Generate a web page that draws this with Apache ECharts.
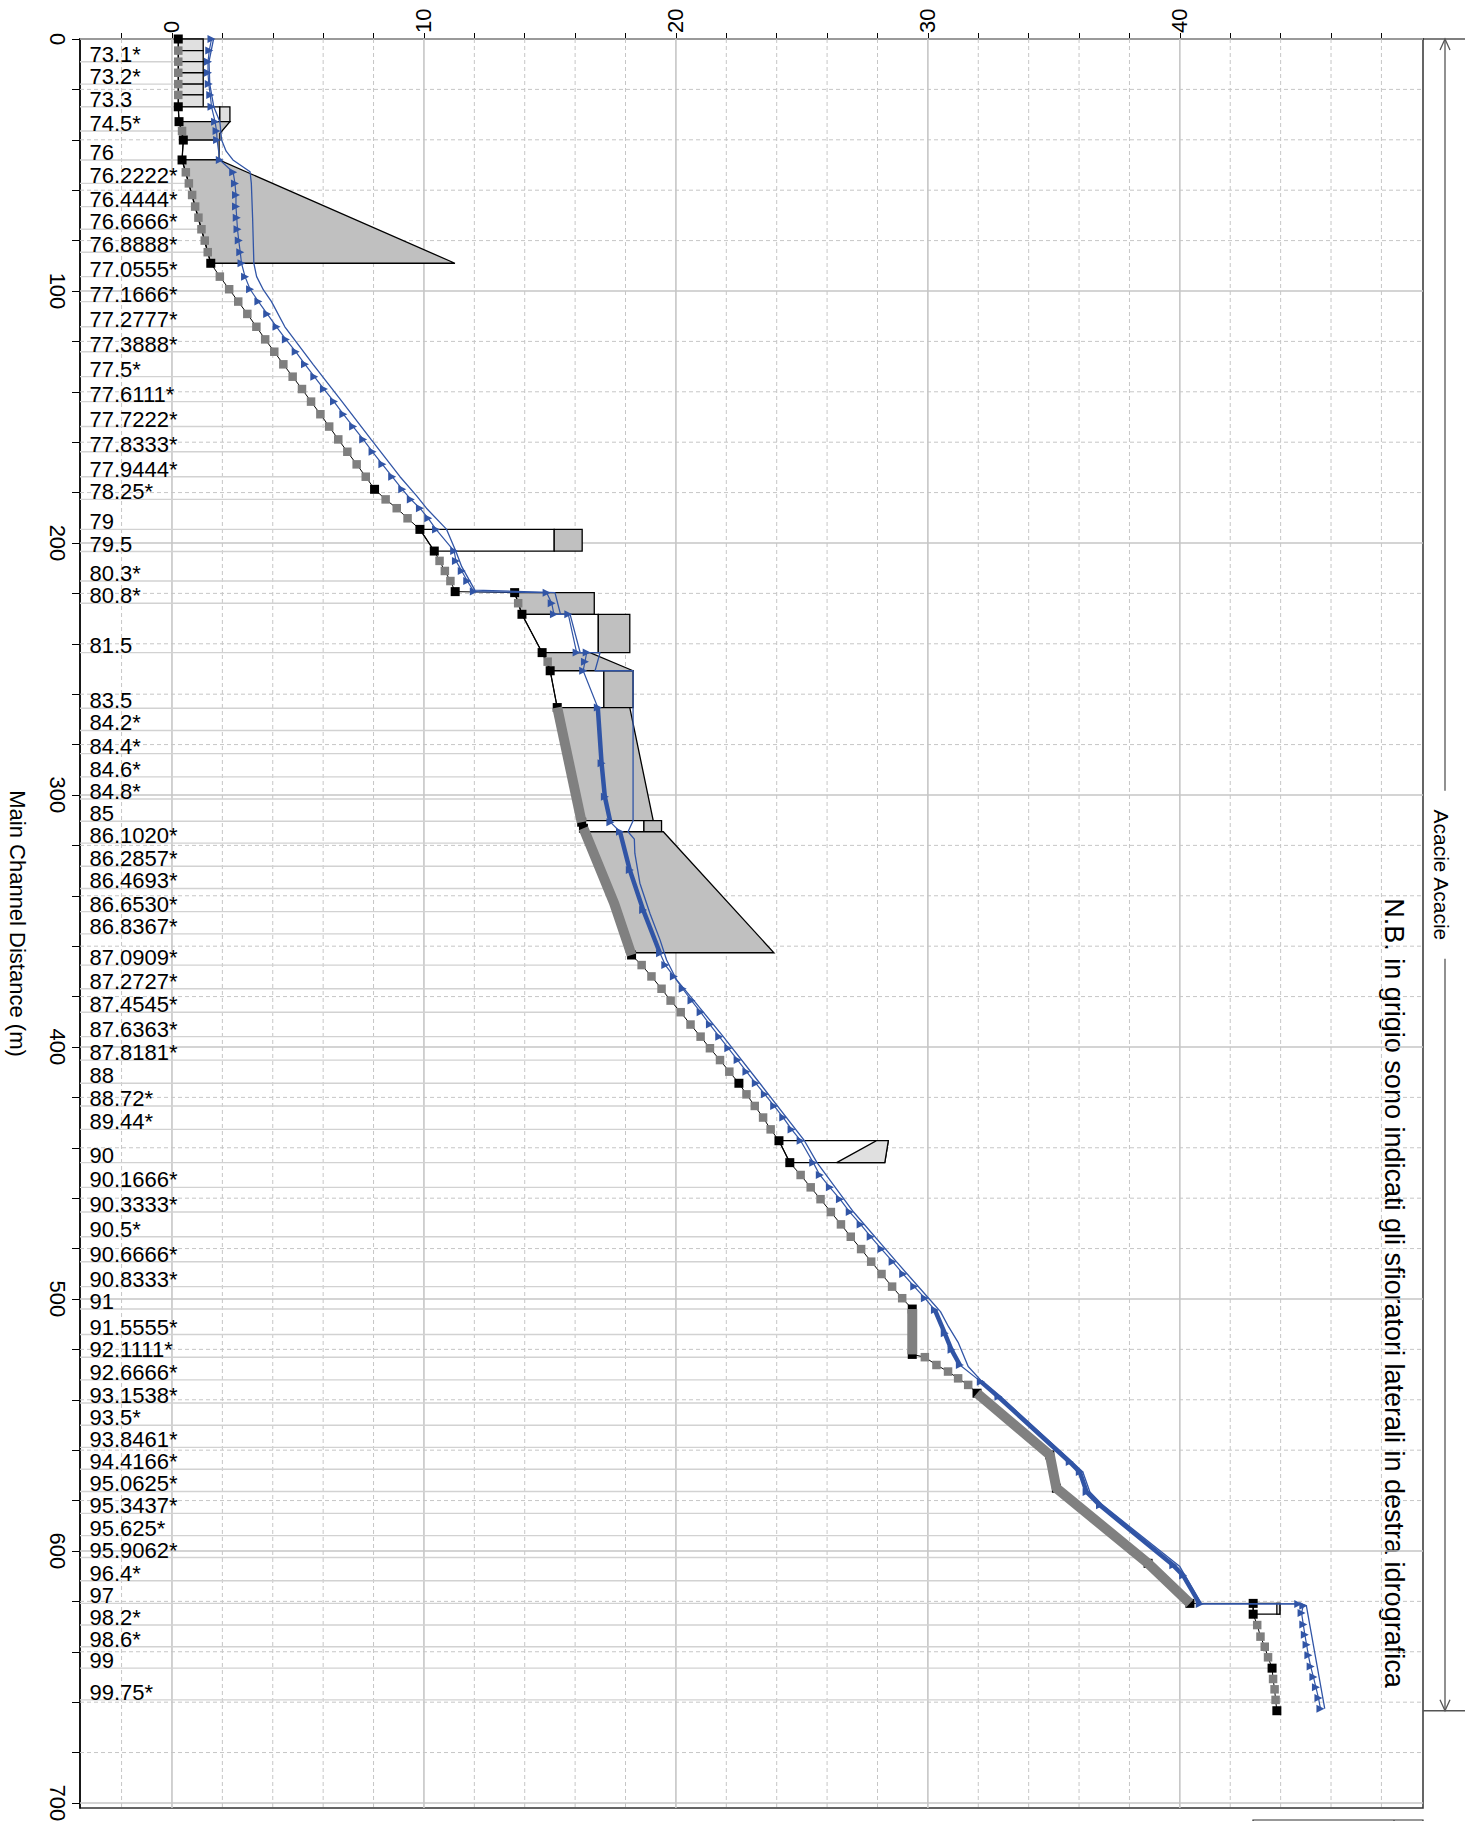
<!DOCTYPE html>
<html><head><meta charset="utf-8">
<script src="https://cdn.jsdelivr.net/npm/echarts@6.0.0/dist/echarts.min.js"></script>
<style>html,body{margin:0;padding:0;background:#fff;overflow:hidden;width:1465px;height:1821px}#chart{position:absolute;left:0;top:0;width:1465px;height:1821px}</style>
</head><body><div id="chart"></div><script>
// ---------- axis ranges and ticks ----------
const E_MIN = -3.65, E_MAX = 49.65, D_MIN = 0, D_MAX = 702;
const elevLabelValues = [0, 10, 20, 30, 40];
const elevGridMajor = [0, 10, 20, 30, 40];
const elevGridMinor = [-2, 2, 4, 6, 8, 12, 14, 16, 18, 22, 24, 26, 28, 32, 34, 36, 38, 42, 44, 46, 48];
const distLabelValues = [0, 100, 200, 300, 400, 500, 600, 700];
const distGridMajor = [0, 100, 200, 300, 400, 500, 600, 700];
const distGridMinor = [20, 40, 60, 80, 120, 140, 160, 180, 220, 240, 260, 280, 320, 340, 360, 380, 420, 440, 460, 480, 520, 540, 560, 580, 620, 640, 660, 680];

// ---------- river stations ----------
const stationLabels = ['73.1*','73.2*','73.3','74.5*','76','76.2222*','76.4444*','76.6666*','76.8888*','77.0555*','77.1666*','77.2777*','77.3888*','77.5*','77.6111*','77.7222*','77.8333*','77.9444*','78.25*','79','79.5','80.3*','80.8*','81.5','83.5','84.2*','84.4*','84.6*','84.8*','85','86.1020*','86.2857*','86.4693*','86.6530*','86.8367*','87.0909*','87.2727*','87.4545*','87.6363*','87.8181*','88','88.72*','89.44*','90','90.1666*','90.3333*','90.5*','90.6666*','90.8333*','91','91.5555*','92.1111*','92.6666*','93.1538*','93.5*','93.8461*','94.4166*','95.0625*','95.3437*','95.625*','95.9062*','96.4*','97','98.2*','98.6*','99','99.75*'];
const stationDist = [9.0,17.9,26.9,36.5,48.0,57.3,66.5,75.5,84.6,94.3, 104.2,114.2,124.1,134.0,143.9,153.8,163.8,173.7,182.7,194.6, 203.4,215.1,223.9,243.5,265.6,274.4,283.6,292.8,301.6,310.4, 319.1,328.3,337.1,346.3,355.1,367.5,376.9,386.2,395.9,405.2, 414.4,423.4,432.7,445.9,455.7,465.5,475.3,485.2,495.1,504.0, 514.1,523.1,532.1,541.3,550.1,558.9,567.6,576.4,585.1,593.9, 602.6,611.8,620.8,629.4,638.0,646.5,659.1];

// ---------- ground (channel invert) ----------
const groundDist = [0,4.6,9.0,13.4,17.9,22.2,26.9,32.8,36.5,40.1, 48.0,52.9,57.3,61.9,66.5,70.9,75.5,80.0,84.6,89.0, 94.3,99.3,104.2,109.1,114.2,119.2,124.1,129.1,134.0,138.9, 143.9,148.9,153.8,158.9,163.8,168.8,173.7,178.7,182.7,186.2, 190.2,194.6,203.2,207.1,211.1,215.1,219.3,219.7,223.9,228.3, 243.5,247.1,250.7,265.3,310.8,313.2,343.0,363.5,367.5,372.0, 376.9,381.6,386.2,391.1,395.9,400.5,405.2,409.8,414.4,418.8, 423.4,428.0,432.7,437.2,445.9,450.8,455.7,460.4,465.5,470.4, 475.3,480.2,485.2,490.1,495.1,499.7,504.0,522.0,523.1,526.2, 528.8,531.5,534.1,537.4,561.9,575.1,604.9,620.8,620.8,625.1, 629.4,634.0,638.0,642.2,646.5,650.8,654.9,659.1,663.4];
const groundElev = [0.25,0.25,0.25,0.25,0.25,0.25,0.25,0.28,0.4,0.45, 0.4,0.55,0.67,0.8,0.92,1.05,1.17,1.3,1.42,1.54, 1.9,2.27,2.63,2.99,3.35,3.7,4.06,4.42,4.79,5.16, 5.52,5.89,6.24,6.6,6.96,7.33,7.69,8.04,8.48,8.92, 9.35,9.84,10.41,10.62,10.83,11.05,11.24,13.6,13.74,13.89, 14.69,14.91,15.01,15.29,16.26,16.33,17.55,18.24,18.64,19.03, 19.43,19.79,20.19,20.58,20.98,21.35,21.75,22.12,22.5,22.8, 23.13,23.46,23.76,24.09,24.52,24.95,25.35,25.74,26.15,26.55, 26.94,27.35,27.75,28.16,28.58,28.98,29.38,29.38,29.88,30.34, 30.8,31.2,31.6,31.95,34.84,35.1,38.74,40.4,42.91,42.91, 43.07,43.2,43.37,43.5,43.66,43.7,43.76,43.8,43.85];
// 1 = surveyed section (black), 0 = interpolated section (grey), 2 = no marker
const groundKind = [1,0,0,0,0,0,1,1,0,1, 1,0,0,0,0,0,0,0,0,1, 0,0,0,0,0,0,0,0,0,0, 0,0,0,0,0,0,0,1,0,0, 0,1,1,0,0,0,1,1,0,1, 1,0,1,1,1,1,2,1,0,0, 0,0,0,0,0,0,0,0,1,0, 0,0,0,1,1,0,0,0,0,0, 0,0,0,0,0,0,1,1,0,0, 0,0,0,1,1,1,1,1,1,1, 0,0,0,0,1,0,0,0,1];
// stretches with very dense interpolated sections: [dist, elev]
const groundBand1 = [[265.3,15.29],[310.8,16.26]];
const groundBand2 = [[313.2,16.33],[343.0,17.55],[363.5,18.24]];
const groundBand3 = [[504.0,29.38],[522.0,29.38]];
const groundBand4 = [[537.4,31.95],[561.9,34.84],[575.1,35.1],[604.9,38.74],[620.8,40.4]];

// ---------- water surface, profile with markers ----------
const wsTriDist = [0,4.6,9.0,13.4,17.9,22.2,26.9,32.8,36.5,40.1, 48.0,52.9,57.3,61.9,66.5,70.9,75.5,80.0,84.6,89.0, 94.3,99.3,104.2,109.1,114.2,119.2,124.1,129.1,134.0,138.9, 143.9,148.9,153.8,158.9,163.8,168.8,173.7,178.7,182.7,186.2, 190.2,194.6,203.2,207.1,211.1,215.1,219.3,219.7,223.9,228.3, 228.3,243.5,243.5,247.1,250.7,265.3,287.4,300.7,310.8,314.6, 329.8,345.6,362.8,367.5,372.0,376.9,381.6,386.2,391.1,395.9, 400.5,405.2,409.8,414.4,418.8,423.4,428.0,432.7,437.2,445.9, 450.8,455.7,460.4,465.5,470.4,475.3,480.2,485.2,490.1,495.1, 499.7,504.4,513.6,520.2,526.2,532.8,538.8,564.7,568.7,576.6, 581.9,605.7,609.7,621.0,621.0,621.7,624.6,629.2,633.2,637.2, 641.4,645.8,650.0,654.1,658.3,662.6];
const wsTriElev = [1.57,1.48,1.43,1.43,1.46,1.52,1.57,1.71,1.77,1.79, 1.9,2.43,2.5,2.54,2.54,2.57,2.6,2.65,2.71,2.76, 2.9,3.1,3.43,3.78,4.15,4.52,4.91,5.28,5.65,6.03, 6.43,6.8,7.19,7.59,7.96,8.35,8.74,9.14,9.48,9.84, 10.17,10.48,11.2,11.27,11.5,11.72,11.98,14.87,15.07,15.16, 15.73,16.06,16.46,16.39,16.32,16.9,17.05,17.18,17.4,17.78, 18.17,18.7,19.37,19.58,19.92,20.27,20.62,20.98,21.35,21.72, 22.08,22.45,22.8,23.17,23.53,23.9,24.26,24.59,24.95,25.45, 25.71,26.11,26.51,26.9,27.33,27.73,28.16,28.6,29.02,29.46, 29.88,30.28,30.67,30.94,31.27,32.1,32.8,35.63,36.03,36.3, 36.83,39.74,40.13,40.79,44.7,44.9,44.83,44.9,44.96,45.03, 45.1,45.19,45.3,45.4,45.5,45.58];
const wsBand1 = [[265.3,16.9],[287.4,17.05],[300.7,17.18],[310.8,17.4]];
const wsBand2 = [[314.6,17.78],[329.8,18.17],[345.6,18.7],[362.8,19.37]];
const wsBand3 = [[504.4,30.28],[513.6,30.67],[520.2,30.94],[526.2,31.27]];
const wsBand4 = [[532.8,32.1],[538.8,32.8],[564.7,35.63],[568.7,36.03],[576.6,36.3],[581.9,36.83],[605.7,39.74],[609.7,40.13],[621.0,40.79]];

// ---------- water surface, plain profile ----------
const wsPlainDist = [0,9.0,17.9,26.9,32.8,40.1,44.5,48.0,52.7,57.3, 70.9,89.0,94.3,99.6,104.2,114.2,129.1,143.9,158.9,173.7, 181.3,186.2,194.6,203.4,209.4,218.7,219.7,228.3,228.3,243.5, 243.5,250.7,250.7,310.2,314.6,317.5,323.1,335.0,347.0,357.5, 365.5,373.4,381.3,395.9,414.4,437.2,445.9,465.5,485.2,499.7, 505.0,511.0,517.2,526.8,532.8,538.8,564.9,568.7,576.6,581.9, 606.2,621.0,621.0,621.7,662.6];
const wsPlainElev = [1.65,1.47,1.5,1.66,1.9,1.97,2.15,2.42,3.1,3.15, 3.2,3.25,3.36,3.63,3.95,4.48,5.6,6.75,7.9,9.05, 9.71,10.1,10.9,11.27,11.5,12.02,15.2,15.42,15.8,16.2, 16.99,16.79,18.3,18.3,18.1,18.35,18.37,18.57,18.97,19.37, 19.63,20.03,20.69,21.88,23.33,25.1,25.6,27.05,28.75,30.03, 30.5,30.82,31.2,31.6,32.15,32.88,35.75,36.15,36.43,36.95, 40.0,40.85,44.8,45.02,45.75];

// ---------- structures (lateral weirs / decks): polygons of [dist, elev] ----------
const structKinds = ['light','light','light','light','light','light','white','light','gray','white','gray','white','gray','gray','white','gray','gray','white','gray','gray','white','gray','gray','white','light','white','light'];
const structPoints = [
 [[0,0.25],[0,1.24],[4.6,1.24],[4.6,0.25]],
 [[4.6,0.25],[4.6,1.24],[9.0,1.24],[9.0,0.25]],
 [[9.0,0.25],[9.0,1.24],[13.4,1.24],[13.4,0.25]],
 [[13.4,0.25],[13.4,1.24],[17.9,1.24],[17.9,0.25]],
 [[17.9,0.25],[17.9,1.24],[22.2,1.24],[22.2,0.25]],
 [[22.2,0.25],[22.2,1.24],[26.9,1.24],[26.9,0.25]],
 [[26.9,0.25],[26.9,1.9],[32.8,1.9],[32.8,0.28]],
 [[26.9,1.9],[26.9,2.3],[32.8,2.3],[32.8,1.9]],
 [[32.8,0.28],[32.8,2.3],[37.5,1.9],[40.1,1.9],[40.1,0.45]],
 [[40.1,0.45],[40.1,1.87],[48.0,1.87],[48.0,0.4]],
 [[48.0,0.4],[48.0,1.87],[89.0,11.23],[89.0,1.54]],
 [[194.6,9.84],[194.6,15.17],[203.2,15.17],[203.2,10.41]],
 [[194.6,15.17],[194.6,16.28],[203.2,16.28],[203.2,15.17]],
 [[219.7,13.6],[219.7,16.76],[228.3,16.76],[228.3,13.89]],
 [[228.3,13.89],[228.3,16.92],[243.5,16.92],[243.5,14.69]],
 [[228.3,16.92],[228.3,18.17],[243.5,18.17],[243.5,16.92]],
 [[243.5,14.69],[243.5,16.59],[250.7,18.3],[250.7,15.01]],
 [[250.7,15.01],[250.7,17.14],[265.3,17.14],[265.3,15.29]],
 [[250.7,17.14],[250.7,18.3],[265.3,18.3],[265.3,17.14]],
 [[265.3,15.29],[265.3,18.17],[310.2,19.1],[310.2,16.26]],
 [[310.2,16.26],[310.2,18.73],[314.6,18.73],[314.6,16.33]],
 [[310.2,18.73],[310.2,19.43],[314.6,19.43],[314.6,18.73]],
 [[314.6,16.33],[314.6,19.5],[362.6,23.89],[362.6,18.24]],
 [[437.2,24.09],[437.2,28.43],[445.9,28.29],[445.9,24.52]],
 [[445.9,26.38],[437.2,27.96],[437.2,28.43],[445.9,28.29]],
 [[620.8,42.91],[620.8,43.97],[625.1,43.97],[625.1,42.91]],
 [[620.8,43.85],[620.8,43.97],[625.1,43.97],[625.1,43.85]]
];

// ---------- texts ----------
const distAxisName = 'Main Channel Distance (m)';
const reachName = 'Acacie Acacie';
const reachStartDist = 0, reachEndDist = 663.4;
const noteText = 'N.B. in grigio sono indicati gli sfioratori laterali in destra idrografica';

// ================= build =================
const FONT = '"Liberation Sans", Arial, Helvetica, sans-serif';
const BLUE = '#3155a6';
const FILL = {light:'#e0e0e0', gray:'#c0c0c0', white:'#ffffff'};
const W = 1465, H = 1821;
const chart = echarts.init(document.getElementById('chart'), null, {renderer:'svg', width:W, height:H});

function groundAt(d){
  for (let i=0;i<groundDist.length-1;i++){
    const a=groundDist[i], b=groundDist[i+1];
    if (d>=a && d<=b){ if (b===a) return groundElev[i]; return groundElev[i]+(groundElev[i+1]-groundElev[i])*(d-a)/(b-a); }
  }
  return groundElev[groundElev.length-1];
}
function vLines(values, style, z){
  return {type:'custom', coordinateSystem:'cartesian2d', silent:true, z, animation:false,
    data: values.map(v=>[v, D_MIN]), encode:{x:0,y:1},
    renderItem:(p, api)=>{ const a=api.coord([api.value(0), D_MIN]), b=api.coord([api.value(0), D_MAX]);
      return {type:'line', shape:{x1:a[0],y1:a[1],x2:b[0],y2:b[1]}, style}; }};
}
function hLines(values, style, z){
  return {type:'custom', coordinateSystem:'cartesian2d', silent:true, z, animation:false,
    data: values.map(v=>[E_MIN, v]), encode:{x:0,y:1},
    renderItem:(p, api)=>{ const a=api.coord([E_MIN, api.value(1)]), b=api.coord([E_MAX, api.value(1)]);
      return {type:'line', shape:{x1:a[0],y1:a[1],x2:b[0],y2:b[1]}, style}; }};
}
const dashStyle = {stroke:'#c6c6c6', lineWidth:1, lineDash:[4,3]};
const solidStyle = {stroke:'#c6c6c6', lineWidth:1.6};

function bandSeries(pts, color, width, z){
  return {type:'line', z, silent:true, animation:false, symbol:'none',
    data: pts.map(p=>[p[1], p[0]]), lineStyle:{color, width, cap:'butt'}};
}

const groundData = groundDist.map((d,i)=>{
  const k = groundKind[i];
  const item = {value:[groundElev[i], d]};
  if (k===2) { item.symbol='none'; }
  else { item.symbol='rect'; item.symbolSize = k===1?9:8.5; item.itemStyle={color: k===1?'#000':'#7f7f7f'}; }
  return item;
});

const series = [
  vLines(elevGridMinor, dashStyle, 1),
  hLines(distGridMinor, dashStyle, 1),
  vLines(elevGridMajor, solidStyle, 1),
  hLines(distGridMajor, solidStyle, 1),
  { // station lines and labels
    type:'custom', coordinateSystem:'cartesian2d', silent:true, z:2, animation:false,
    data: stationDist.map(d=>[E_MIN, d]), encode:{x:0,y:1},
    renderItem:(p, api)=>{
      const d = api.value(1);
      const a = api.coord([E_MIN, d]), b = api.coord([groundAt(d), d]);
      return {type:'group', children:[
        {type:'line', shape:{x1:a[0],y1:a[1],x2:b[0],y2:b[1]}, style:{stroke:'#d2d2d2', lineWidth:1.4}},
        {type:'text', x:a[0]+9.5, y:a[1]+3.5, style:{text:stationLabels[p.dataIndex], fill:'#000', fontSize:22, fontFamily:FONT, align:'left', verticalAlign:'bottom', textAlign:'left', textVerticalAlign:'bottom'}}
      ]};
    }
  },
  { // structures
    type:'custom', coordinateSystem:'cartesian2d', silent:true, z:3, animation:false,
    data: structPoints.map(pts=>[pts[0][1], pts[0][0]]), encode:{x:0,y:1},
    renderItem:(p, api)=>{
      const pts = structPoints[p.dataIndex].map(q=>api.coord([q[1], q[0]]));
      return {type:'polygon', shape:{points:pts}, style:{fill:FILL[structKinds[p.dataIndex]], stroke:'#000', lineWidth:1.3}};
    }
  },
  {type:'line', name:'ground', z:4, animation:false, silent:true, data:groundData,
    lineStyle:{color:'#000', width:1}},
  bandSeries(groundBand1, '#808080', 10, 5),
  bandSeries(groundBand2, '#808080', 10, 5),
  bandSeries(groundBand3, '#808080', 10, 5),
  bandSeries(groundBand4, '#808080', 10, 5),
  {type:'line', name:'ws plain', z:6, animation:false, silent:true, symbol:'none',
    data: wsPlainDist.map((d,i)=>[wsPlainElev[i], d]), lineStyle:{color:BLUE, width:1.3}},
  bandSeries(wsBand1, BLUE, 4.5, 6),
  bandSeries(wsBand2, BLUE, 4.5, 6),
  bandSeries(wsBand3, BLUE, 4.5, 6),
  bandSeries(wsBand4, BLUE, 4.5, 6),
  {type:'line', name:'ws', z:7, animation:false, silent:true, symbol:'triangle', symbolSize:8, symbolRotate:-90,
    itemStyle:{color:BLUE}, data: wsTriDist.map((d,i)=>[wsTriElev[i], d]), lineStyle:{color:BLUE, width:1.2}}
];

const elevTicks = elevGridMajor.concat(elevGridMinor).sort((a,b)=>a-b);
const distTicks = distGridMajor.concat(distGridMinor).sort((a,b)=>a-b);

chart.setOption({
  animation:false,
  backgroundColor:'#fff',
  grid:{left:80, top:39, right:42, bottom:13, containLabel:false, outerBoundsMode:'none',
    show:true, borderColor:'#333', borderWidth:1.5, backgroundColor:'transparent'},
  xAxis:{type:'value', position:'top', min:E_MIN, max:E_MAX,
    axisLine:{show:true, onZero:false, lineStyle:{color:'#000', width:1.5}},
    axisTick:{show:true, customValues:elevTicks, length:6, lineStyle:{color:'#000', width:1}},
    axisLabel:{customValues:elevLabelValues, rotate:-90, fontSize:22, fontFamily:FONT, color:'#000', margin:6},
    splitLine:{show:false}},
  yAxis:{type:'value', inverse:true, min:D_MIN, max:D_MAX,
    name:distAxisName, nameLocation:'middle', nameRotate:-90, nameGap:52,
    nameTextStyle:{fontSize:22, fontFamily:FONT, color:'#000'},
    axisLine:{show:true, onZero:false, lineStyle:{color:'#000', width:1.5}},
    axisTick:{show:true, customValues:distTicks, length:8, lineStyle:{color:'#000', width:1}},
    axisLabel:{customValues:distLabelValues, rotate:-90, fontSize:22, fontFamily:FONT, color:'#000', margin:12},
    splitLine:{show:false}},
  series
});

// reach bracket, note, legend frame
const px = (e,d)=>chart.convertToPixel({xAxisIndex:0, yAxisIndex:0}, [e,d]);
const yTop = px(0, reachStartDist)[1], yBot = px(0, reachEndDist)[1];
const xRight = px(E_MAX, 0)[0];
const bx = xRight + 22;
const yMid = (yTop + yBot)/2;
const gap = 84;
const br = {stroke:'#555', lineWidth:1.3, fill:'none'};
const noteAt = px(48.5, 341);
chart.setOption({graphic:[
  {type:'line', silent:true, shape:{x1:xRight, y1:yTop, x2:W, y2:yTop}, style:br},
  {type:'line', silent:true, shape:{x1:xRight, y1:yBot, x2:W, y2:yBot}, style:br},
  {type:'line', silent:true, shape:{x1:bx, y1:yTop, x2:bx, y2:yMid-gap}, style:br},
  {type:'line', silent:true, shape:{x1:bx, y1:yMid+gap, x2:bx, y2:yBot}, style:br},
  {type:'polyline', silent:true, shape:{points:[[bx-5,yTop+11],[bx,yTop],[bx+5,yTop+11]]}, style:br},
  {type:'polyline', silent:true, shape:{points:[[bx-5,yBot-11],[bx,yBot],[bx+5,yBot-11]]}, style:br},
  {type:'text', silent:true, x:bx-4, y:yMid, rotation:-Math.PI/2, style:{text:reachName, fill:'#000', fontSize:21, fontFamily:FONT, align:'center', verticalAlign:'middle'}},
  {type:'text', silent:true, x:noteAt[0], y:noteAt[1], rotation:-Math.PI/2, style:{text:noteText, fill:'#000', fontSize:27, fontFamily:FONT, align:'left', verticalAlign:'middle'}},
  {type:'rect', silent:true, shape:{x:1253, y:1820, width:170, height:20}, style:{fill:'#fff', stroke:'#333', lineWidth:1.2}},
  {type:'line', silent:true, shape:{x1:1394, y1:1820, x2:1394, y2:1821}, style:{stroke:'#333', lineWidth:1}}
]});
</script></body></html>
